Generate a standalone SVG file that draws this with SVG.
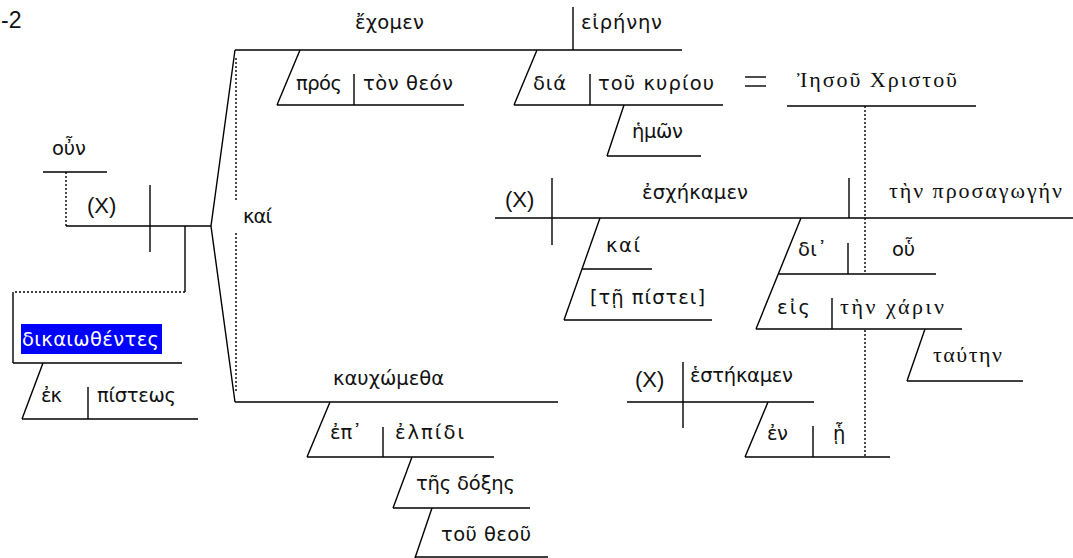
<svg xmlns="http://www.w3.org/2000/svg" width="1073" height="558" viewBox="0 0 1073 558">
<style>
.g{font-family:"DejaVu Sans","Noto Sans",sans-serif;font-size:19.5px;fill:#111}
.s{font-family:"Liberation Serif","DejaVu Serif",serif;font-size:22px;fill:#111}
.a{font-family:"Liberation Sans",Arial,sans-serif;font-size:22px;fill:#111}
.hl{fill:#ffffff}
line,polyline{stroke:#000;stroke-width:1.4;fill:none}
.d{stroke-dasharray:2,2}
</style>
<rect width="1073" height="558" fill="#fff"/>
<text class="a" x="1" y="28" style="font-size:23px">-2</text>

<g id="connectors">
  <line class="d" x1="66" y1="172" x2="66" y2="226"/>
  <line x1="150" y1="185" x2="150" y2="252"/>
  <line x1="185" y1="226" x2="185" y2="292"/>
  <line class="d" x1="185" y1="292" x2="13" y2="292"/>
  <line x1="13" y1="292" x2="13" y2="363"/>
  <line x1="43" y1="363" x2="22" y2="419"/>
  <line x1="88" y1="387" x2="88" y2="419"/>
  <polyline points="235,50 211,226 235,402"/>
  <line class="d" x1="236" y1="58" x2="236" y2="200"/>
  <line class="d" x1="236" y1="233" x2="236" y2="393"/>
  <line x1="573" y1="7" x2="573" y2="50"/>
  <line x1="300" y1="50" x2="277" y2="105"/>
  <line x1="354" y1="74" x2="354" y2="105"/>
  <line x1="537" y1="50" x2="514" y2="105"/>
  <line x1="590" y1="74" x2="590" y2="105"/>
  <line x1="624" y1="105" x2="607" y2="156"/>
  <line x1="745" y1="77" x2="766" y2="77"/>
  <line x1="745" y1="86" x2="766" y2="86"/>
  <line class="d" x1="865" y1="106" x2="865" y2="273"/>
  <line x1="552" y1="178" x2="552" y2="245"/>
  <line x1="849" y1="178" x2="849" y2="218"/>
  <line x1="600" y1="218" x2="564" y2="320"/>
  <line x1="801" y1="218" x2="756" y2="329"/>
  <line x1="848" y1="243" x2="848" y2="274"/>
  <line x1="832" y1="298" x2="832" y2="329"/>
  <line x1="925" y1="329" x2="907" y2="381"/>
  <line class="d" x1="865" y1="330" x2="865" y2="457"/>
  <line x1="330" y1="402" x2="307" y2="457"/>
  <line x1="383" y1="427" x2="383" y2="457"/>
  <line x1="412" y1="457" x2="393" y2="508"/>
  <line x1="432" y1="508" x2="415" y2="558"/>
  <line x1="683" y1="362" x2="683" y2="428"/>
  <line x1="768" y1="402" x2="745" y2="457"/>
  <line x1="813" y1="426" x2="813" y2="457"/>
</g>

<g id="oun">
  <line x1="43" y1="172" x2="107" y2="172"/>
  <text class="g" x="52" y="155" textLength="34" lengthAdjust="spacing">οὖν</text>
</g>
<g id="main1">
  <line x1="66" y1="226" x2="211" y2="226"/>
  <text class="a" x="87" y="213">(X)</text>
</g>
<g id="dikaiothentes">
  <line x1="13" y1="363" x2="182" y2="363"/>
  <rect x="21" y="324" width="141" height="30" fill="#0000ff"/>
  <text class="g hl" x="22" y="346" textLength="137" lengthAdjust="spacing">δικαιωθέντες</text>
</g>
<g id="ek">
  <line x1="22" y1="419" x2="198" y2="419"/>
  <text class="g" x="41" y="402" textLength="21" lengthAdjust="spacing">ἐκ</text>
  <text class="g" x="97" y="402" textLength="79" lengthAdjust="spacing">πίστεως</text>
</g>
<g id="kai1">
  <text class="g" x="243" y="223" textLength="29" lengthAdjust="spacing">καί</text>
</g>
<g id="echomen">
  <line x1="235" y1="50" x2="682" y2="50"/>
  <text class="g" x="355" y="29" textLength="69" lengthAdjust="spacing">ἔχομεν</text>
  <text class="g" x="581" y="29" textLength="81" lengthAdjust="spacing">εἰρήνην</text>
</g>
<g id="pros">
  <line x1="277" y1="105" x2="464" y2="105"/>
  <text class="g" x="296" y="90" textLength="46" lengthAdjust="spacing">πρός</text>
  <text class="g" x="363" y="90" textLength="90" lengthAdjust="spacing">τὸν θεόν</text>
</g>
<g id="dia">
  <line x1="514" y1="105" x2="723" y2="105"/>
  <text class="g" x="533" y="90" textLength="33" lengthAdjust="spacing">διά</text>
  <text class="g" x="598" y="90" textLength="116" lengthAdjust="spacing">τοῦ κυρίου</text>
</g>
<g id="hemon">
  <line x1="607" y1="156" x2="701" y2="156"/>
  <text class="g" x="632" y="138" textLength="51" lengthAdjust="spacing">ἡμῶν</text>
</g>
<g id="iesou">
  <line x1="787" y1="106" x2="976" y2="106"/>
  <text class="s" x="797" y="87" textLength="160" lengthAdjust="spacing">Ἰησοῦ Χριστοῦ</text>
</g>
<g id="eschekamen">
  <line x1="495" y1="218" x2="1073" y2="218"/>
  <text class="a" x="505" y="207">(X)</text>
  <text class="g" x="642" y="199" textLength="106" lengthAdjust="spacing">ἐσχήκαμεν</text>
  <text class="s" x="889" y="198" textLength="173" lengthAdjust="spacing">τὴν προσαγωγήν</text>
</g>
<g id="kai2">
  <line x1="582" y1="269" x2="652" y2="269"/>
  <text class="g" x="606" y="252" textLength="34" lengthAdjust="spacing">καί</text>
</g>
<g id="te-pistei">
  <line x1="564" y1="320" x2="712" y2="320"/>
  <text class="g" x="590" y="304" textLength="115" lengthAdjust="spacing">[τῇ πίστει]</text>
</g>
<g id="di-hou">
  <line x1="779" y1="274" x2="936" y2="274"/>
  <text class="g" x="798" y="256" textLength="29" lengthAdjust="spacing">δι᾽</text>
  <text class="g" x="892" y="256" textLength="23" lengthAdjust="spacing">οὗ</text>
</g>
<g id="eis">
  <line x1="756" y1="329" x2="962" y2="329"/>
  <text class="g" x="777" y="314" textLength="33" lengthAdjust="spacing">εἰς</text>
  <text class="s" x="840" y="314" textLength="104" lengthAdjust="spacing">τὴν χάριν</text>
</g>
<g id="tauten">
  <line x1="907" y1="381" x2="1023" y2="381"/>
  <text class="s" x="933" y="362" textLength="69" lengthAdjust="spacing">ταύτην</text>
</g>
<g id="kauchometha">
  <line x1="235" y1="402" x2="558" y2="402"/>
  <text class="g" x="333" y="385" textLength="111" lengthAdjust="spacing">καυχώμεθα</text>
</g>
<g id="ep">
  <line x1="307" y1="457" x2="494" y2="457"/>
  <text class="g" x="330" y="439" textLength="32" lengthAdjust="spacing">ἐπ᾽</text>
  <text class="g" x="395" y="439" textLength="69" lengthAdjust="spacing">ἐλπίδι</text>
</g>
<g id="doxes">
  <line x1="393" y1="508" x2="530" y2="508"/>
  <text class="g" x="416" y="490" textLength="99" lengthAdjust="spacing">τῆς δόξης</text>
</g>
<g id="theou">
  <line x1="415" y1="557" x2="548" y2="557"/>
  <text class="g" x="441" y="541" textLength="90" lengthAdjust="spacing">τοῦ θεοῦ</text>
</g>
<g id="hestekamen">
  <line x1="627" y1="402" x2="814" y2="402"/>
  <text class="a" x="635" y="387">(X)</text>
  <text class="g" x="690" y="382" textLength="103" lengthAdjust="spacing">ἑστήκαμεν</text>
</g>
<g id="en">
  <line x1="745" y1="457" x2="890" y2="457"/>
  <text class="g" x="767" y="440" textLength="21" lengthAdjust="spacing">ἐν</text>
  <text class="g" x="833" y="440" textLength="20" lengthAdjust="spacing">ᾗ</text>
</g>
</svg>
